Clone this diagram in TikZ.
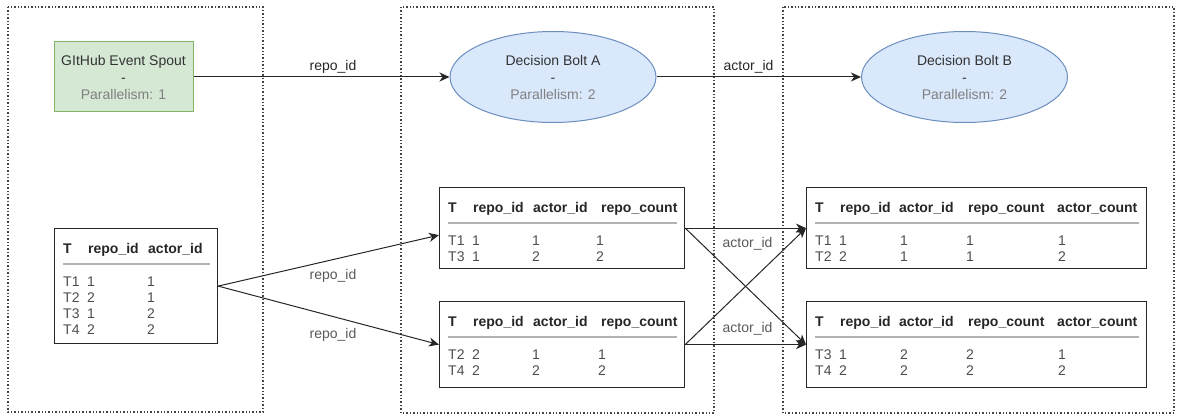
\documentclass[tikz,border=0pt]{standalone}
\usepackage{fontspec}
\setmainfont{Liberation Sans}
\usetikzlibrary{shapes.geometric,arrows.meta,calc}
\definecolor{spfill}{HTML}{D5E8D4}
\definecolor{spdraw}{HTML}{82B366}
\definecolor{elfill}{HTML}{DAE8FC}
\definecolor{eldraw}{HTML}{6C8EBF}
\definecolor{txt}{HTML}{333333}
\definecolor{para}{HTML}{808080}
\definecolor{rowtxt}{HTML}{4D4D4D}
\definecolor{sepcol}{HTML}{B3B3B3}
\definecolor{cont}{HTML}{444444}
\tikzset{
 every node/.style={font=\fontsize{14}{17}\selectfont},
 container/.style={draw=cont, line width=1.2pt, dash pattern=on 1.4pt off 2pt},
 spoutbox/.style={draw=spdraw, fill=spfill, line width=1pt, minimum width=139pt, minimum height=70pt, align=center, text=txt, inner sep=0pt},
 boltshape/.style={ellipse, draw=eldraw, fill=elfill, line width=1pt, minimum width=206pt, minimum height=91pt, align=center, text=txt, inner sep=0pt},
 tbl/.style={draw=black!85, line width=1.2pt, anchor=north west, inner sep=0pt},
 hdr/.style={anchor=base west, inner sep=0pt, font=\fontsize{14}{17}\selectfont\bfseries, text=black!85},
 val/.style={anchor=base west, inner sep=0pt, text=rowtxt},
 sepline/.style={draw=sepcol, line width=1.3pt},
 conn/.style={draw=black!85, line width=1pt},
 arr/.style={conn, -{Stealth[length=10pt,width=9pt,inset=3pt]}},
 lbl/.style={inner sep=0pt, text=black!85},
 lbllow/.style={inner sep=0pt, text=black!65},
}
\newcommand\tblhead[2]{%
 \foreach \hd/\dx [count=\i] in {#2} {\node[hdr] (#1-h\i) at ($(#1.north west)+(\dx,25)$) {\hd};}
 \draw[sepline] ($(#1.north west)+(9,36)$) -- ($(#1.north east)+(-8,36)$);}
\newcommand\tblrow[3]{%
 \foreach \vv/\dx [count=\j] in {#3} {\node[val] (#1-r#2c\j) at ($(#1.north west)+(\dx,{58+16*(#2-1)})$) {\vv};}}
\begin{document}
\begin{tikzpicture}[x=1pt,y=-1pt]
\useasboundingbox (0,0) rectangle (1177,414);
\draw[container] (8,7) rectangle (263,412);
\draw[container] (401,7) rectangle (714,413);
\draw[container] (783,7) rectangle (1174,413);

\node[spoutbox] (spout) at (123.5,77) {GItHub Event Spout\\-\\\textcolor{para}{Parallelism: 1}};
\node[boltshape] (boltA) at (553,77) {Decision Bolt A\\-\\\textcolor{para}{Parallelism: 2}};
\node[boltshape] (boltB) at (964.5,77) {Decision Bolt B\\-\\\textcolor{para}{Parallelism: 2}};

\node[tbl, minimum width=163pt, minimum height=115pt] (t0) at (54,228) {};
\node[tbl, minimum width=245pt, minimum height=81pt] (a1) at (439,187) {};
\node[tbl, minimum width=245pt, minimum height=86pt] (a2) at (439,301) {};
\node[tbl, minimum width=340pt, minimum height=81pt] (b1) at (806,187) {};
\node[tbl, minimum width=340pt, minimum height=86pt] (b2) at (806,301) {};

\tblhead{t0}{T/9, repo\_id/34, actor\_id/94}
\tblrow{t0}{1}{T1/9, 1/33, 1/93}
\tblrow{t0}{2}{T2/9, 2/33, 1/93}
\tblrow{t0}{3}{T3/9, 1/33, 2/93}
\tblrow{t0}{4}{T4/9, 2/33, 2/93}

\tblhead{a1}{T/9, repo\_id/34, actor\_id/94, repo\_count/162}
\tblrow{a1}{1}{T1/9, 1/33, 1/93, 1/157}
\tblrow{a1}{2}{T3/9, 1/33, 2/93, 2/157}

\tblhead{a2}{T/9, repo\_id/34, actor\_id/94, repo\_count/162}
\tblrow{a2}{1}{T2/9, 2/33, 1/93, 1/159}
\tblrow{a2}{2}{T4/9, 2/33, 2/93, 2/159}

\tblhead{b1}{T/9, repo\_id/34, actor\_id/93, repo\_count/162, actor\_count/251}
\tblrow{b1}{1}{T1/9, 1/33, 1/94, 1/160, 1/252}
\tblrow{b1}{2}{T2/9, 2/33, 1/94, 1/160, 2/252}

\tblhead{b2}{T/9, repo\_id/34, actor\_id/93, repo\_count/162, actor\_count/251}
\tblrow{b2}{1}{T3/9, 1/33, 2/94, 2/160, 1/252}
\tblrow{b2}{2}{T4/9, 2/33, 2/94, 2/160, 2/252}

\draw[arr] (spout) -- node[lbl, pos=0.545, yshift=10pt] (l1) {repo\_id} (boltA);
\draw[arr] (boltA) -- node[lbl, pos=0.45, yshift=10pt] (l2) {actor\_id} (boltB);
\draw[arr] (t0.east) -- node[lbllow, pos=0.52, yshift=-16pt] (l3) {repo\_id} ([yshift=-7pt]a1.west);
\draw[arr] (t0.east) -- node[lbllow, pos=0.52, yshift=-18pt] (l4) {repo\_id} (a2.west);
\draw[arr] (a1.east) -- node[lbllow, pos=0.516, yshift=-16pt] (l5) {actor\_id} (b1.west);
\draw[arr] (a1.east) -- (b2.west);
\draw[arr] (a2.east) -- node[lbllow, pos=0.516, yshift=16pt] (l6) {actor\_id} (b2.west);
\draw[arr] (a2.east) -- (b1.west);
\end{tikzpicture}
\end{document}
